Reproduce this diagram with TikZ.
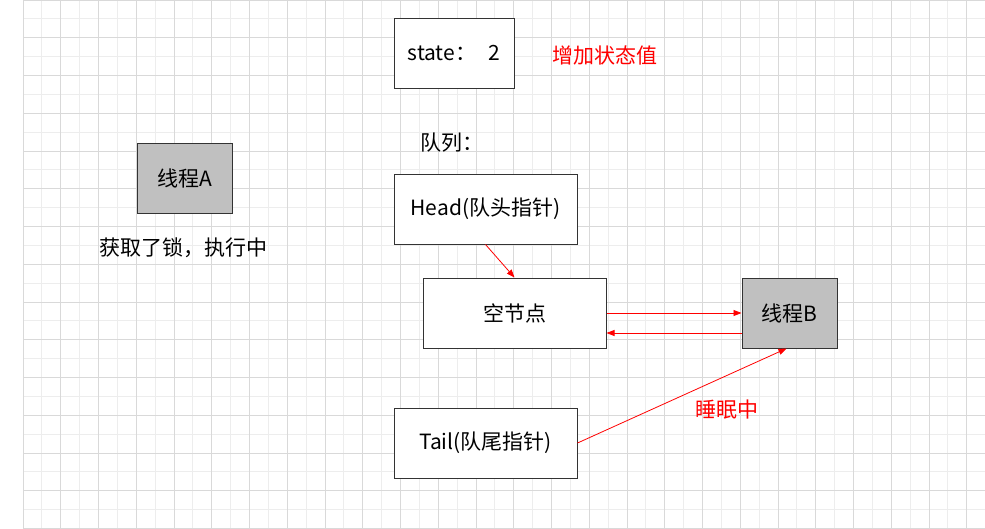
\documentclass[tikz,border=0pt]{standalone}
\usepackage{fontspec}
\setmainfont{Noto Sans CJK SC}
\usetikzlibrary{arrows.meta}
\definecolor{gridmajor}{HTML}{D9D9D9}
\definecolor{gridminor}{HTML}{EDEDED}
\definecolor{boxline}{HTML}{333333}
\definecolor{boxgray}{HTML}{C0C0C0}
\tikzset{
  box/.style={draw=boxline, line width=1pt, fill=white, rectangle, inner sep=0pt, font=\fontsize{21}{25}\selectfont},
  graybox/.style={box, fill=boxgray},
  lbl/.style={inner sep=0pt, font=\fontsize{21}{25}\selectfont},
  redlbl/.style={lbl, text=red},
  redarrow/.style={draw=red, line width=0.8pt, -{Triangle[length=8pt,width=6pt]}},
  gmaj/.style={draw=gridmajor, line width=1pt},
  gmin/.style={draw=gridminor, line width=1pt},
}
\begin{document}
\begin{tikzpicture}[x=1pt,y=-1pt]
\useasboundingbox (0,0) rectangle (985,528);
\fill[white] (0,0) rectangle (985,528);
% grid
\foreach \i in {0,...,25} {
  \draw[gmin] ({23+\i*37.75+18.875},0) -- ({23+\i*37.75+18.875},528);
}
\foreach \j in {0,...,14} {
  \draw[gmin] (23,{\j*37.75+18.875}) -- (985,{\j*37.75+18.875});
}
\foreach \i in {0,...,25} {
  \draw[gmaj] ({23+\i*37.75},0) -- ({23+\i*37.75},528);
}
\foreach \j in {0,...,14} {
  \draw[gmaj] (23,{\j*37.75}) -- (985,{\j*37.75});
}
% boxes
\node[box, minimum width=120pt, minimum height=70pt] (state) at (454,53) {state：\hspace{0.6em}2};
\node[redlbl] (inc) at (605,55) {增加状态值};
\node[graybox, minimum width=95pt, minimum height=70pt] (ta) at (184.5,178) {线程A};
\node[lbl] (lock) at (183,248) {获取了锁，执行中};
\node[lbl, anchor=west] (queue) at (420,143) {队列：};
\node[box, minimum width=183pt, minimum height=70pt] (head) at (485.5,209) {Head(队头指针)};
\node[box, minimum width=183pt, minimum height=70pt] (empty) at (514.5,313) {空节点};
\node[box, minimum width=183pt, minimum height=70pt] (tail) at (485.5,443) {Tail(队尾指针)};
\node[graybox, minimum width=95pt, minimum height=70pt] (tb) at (789.5,313) {线程B};
\node[redlbl] (sleep) at (727,410) {睡眠中};
% connectors
\draw[redarrow] (head.south) -- (empty.north);
\draw[redarrow] (empty.east) -- (tb.west);
\draw[redarrow] ([yshift=-20pt]tb.west) -- ([yshift=-20pt]empty.east);
\draw[redarrow] (tail.east) -- ([xshift=-3pt]tb.south);
\end{tikzpicture}
\end{document}
